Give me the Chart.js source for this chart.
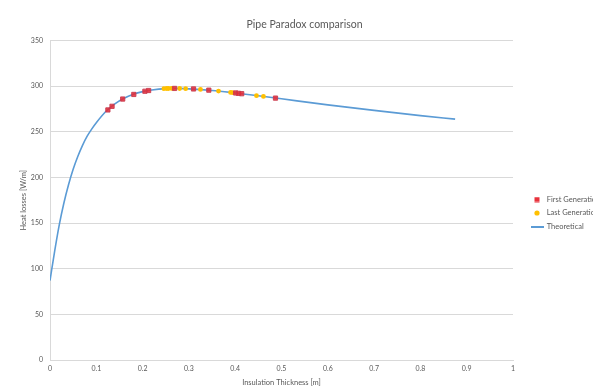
<!DOCTYPE html>
<html>
<head>
<meta charset="utf-8">
<script src="https://cdn.jsdelivr.net/npm/chart.js@4"></script>
<style>
  html, body { margin: 0; padding: 0; background: #ffffff; }
  #wrap { width: 593px; height: 392px; }
</style>
</head>
<body>
<div id="wrap"><canvas id="myChart" width="593" height="392"></canvas></div>
<script>
// values
var firstGenX = [0.125, 0.134, 0.157, 0.181, 0.205, 0.213, 0.269, 0.310, 0.343, 0.401, 0.407, 0.414, 0.487];
var firstGenY = [274, 278, 286, 291, 294.5, 295.3, 297.6, 297, 295.7, 292.6, 292.2, 291.8, 287];

var lastGenX = [0.246, 0.252, 0.256, 0.263, 0.280, 0.293, 0.325, 0.364, 0.390, 0.394, 0.446, 0.461];
var lastGenY = [297.3, 297.5, 297.5, 297.6, 297.5, 297.3, 296.5, 294.7, 293.2, 293, 289.7, 288.8];

var theoX = [0, 0.004, 0.01, 0.02, 0.03, 0.04, 0.05, 0.06, 0.07, 0.08, 0.09, 0.1, 0.12, 0.14, 0.16, 0.18, 0.2, 0.22, 0.25, 0.27, 0.3, 0.35, 0.4, 0.45, 0.5, 0.6, 0.7, 0.8, 0.875];
var theoY = [87, 100, 119, 148, 172, 192, 209, 223, 235, 245, 253, 260, 272, 280.7, 286.9, 291.2, 294.1, 295.9, 297.4, 297.6, 297.1, 295.4, 292.6, 289.5, 286.2, 279.6, 273.5, 267.8, 264];

var xTicks = [0, 0.1, 0.2, 0.3, 0.4, 0.5, 0.6, 0.7, 0.8, 0.9, 1];
var yTicks = [0, 50, 100, 150, 200, 250, 300, 350];

function pairs(xs, ys) {
    var out = [];
    for (var i = 0; i < xs.length; i++) out.push({x: xs[i], y: ys[i]});
    return out;
}

// little images for the legend entries
function icon(w, h, draw) {
    var c = document.createElement('canvas');
    c.width = w;
    c.height = h;
    draw(c.getContext('2d'));
    return c;
}
var redIcon = icon(6, 6, function (c) {
    c.fillStyle = '#e8323c';
    c.fillRect(0.5, 0.5, 5, 5);
});
var yellowIcon = icon(6, 6, function (c) {
    c.fillStyle = '#ffc000';
    c.beginPath();
    c.arc(3, 3, 2.6, 0, Math.PI * 2);
    c.fill();
});
var lineIcon = icon(13, 2, function (c) {
    c.fillStyle = '#5b9bd5';
    c.fillRect(0, 0, 13, 2);
});
var legendIcons = [redIcon, yellowIcon, lineIcon];

// move title and legend to where the reference has them
var nudge = {
    id: 'nudge',
    afterLayout: function (chart) {
        var t = chart.titleBlock;
        t.left += 8;
        t.right += 8;
        var lg = chart.legend;
        var w = lg.right - lg.left;
        lg.left = 525;
        lg.right = 525 + w;
        lg.top = 113;
        lg.bottom = 313;
    }
};

var grey = '#595959';
var fontFam = "Lato, 'Open Sans', sans-serif";

var ctx2 = document.getElementById('myChart').getContext('2d');
var myChart = new Chart(ctx2, {
    type: 'scatter',
    data: {
        datasets: [{
            label: 'First Generation',
            data: pairs(firstGenX, firstGenY),
            pointStyle: 'rect',
            pointRadius: 3,
            backgroundColor: 'rgba(232,40,50,0.85)',
            borderColor: 'rgba(200,60,80,0.9)',
            borderWidth: 1,
            order: 0
        }, {
            label: 'Last Generation',
            data: pairs(lastGenX, lastGenY),
            pointStyle: 'circle',
            pointRadius: 2.4,
            backgroundColor: '#ffc000',
            borderColor: '#ffc000',
            borderWidth: 0,
            order: 1
        }, {
            label: 'Theoretical',
            data: pairs(theoX, theoY),
            showLine: true,
            cubicInterpolationMode: 'monotone',
            pointRadius: 0,
            borderColor: '#5b9bd5',
            backgroundColor: '#5b9bd5',
            borderWidth: 1.6,
            order: 2
        }]
    },
    options: {
        responsive: false,
        animation: false,
        layout: { padding: { left: 0, right: 0, top: 0, bottom: 0 } },
        plugins: {
            title: {
                display: true,
                text: 'Pipe Paradox comparison',
                color: grey,
                font: { family: fontFam, size: 10.5, weight: 'normal' },
                padding: { top: 18, bottom: 10 }
            },
            legend: {
                position: 'right',
                align: 'center',
                maxWidth: 80,
                labels: {
                    usePointStyle: true,
                    pointStyleWidth: 12,
                    boxHeight: 7,
                    padding: 6,
                    color: grey,
                    font: { family: fontFam, size: 7.5 },
                    generateLabels: function (chart) {
                        var items = Chart.defaults.plugins.legend.labels.generateLabels(chart);
                        items.forEach(function (it, i) { it.pointStyle = legendIcons[i]; });
                        return items;
                    }
                }
            },
            tooltip: { enabled: false }
        },
        scales: {
            x: {
                type: 'linear',
                min: 0,
                max: 1,
                afterBuildTicks: function (axis) {
                    axis.ticks = xTicks.map(function (v) { return {value: v}; });
                },
                afterFit: function (axis) { axis.height = 32; },
                ticks: {
                    color: grey,
                    font: { family: fontFam, size: 7 },
                    padding: 5,
                    maxRotation: 0,
                    callback: function (v) { return String(Math.round(v * 10) / 10); }
                },
                grid: { display: false, drawTicks: false },
                border: { display: true, color: '#d9d9d9' },
                title: {
                    display: true,
                    text: 'Insulation Thickness [m]',
                    color: grey,
                    font: { family: fontFam, size: 7.5 },
                    padding: { top: 4, bottom: 5 }
                }
            },
            y: {
                min: 0,
                max: 350,
                afterBuildTicks: function (axis) {
                    axis.ticks = yTicks.map(function (v) { return {value: v}; });
                },
                afterFit: function (axis) { axis.width = 50; },
                ticks: {
                    color: grey,
                    font: { family: fontFam, size: 7 },
                    padding: 7
                },
                grid: { color: '#d9d9d9', drawTicks: false },
                border: { display: true, color: '#d9d9d9' },
                title: {
                    display: true,
                    text: 'Heat losses [W/m]',
                    color: grey,
                    font: { family: fontFam, size: 7.5 },
                    padding: { top: 19.5, bottom: 0 }
                }
            }
        }
    },
    plugins: [nudge]
});
</script>
</body>
</html>
